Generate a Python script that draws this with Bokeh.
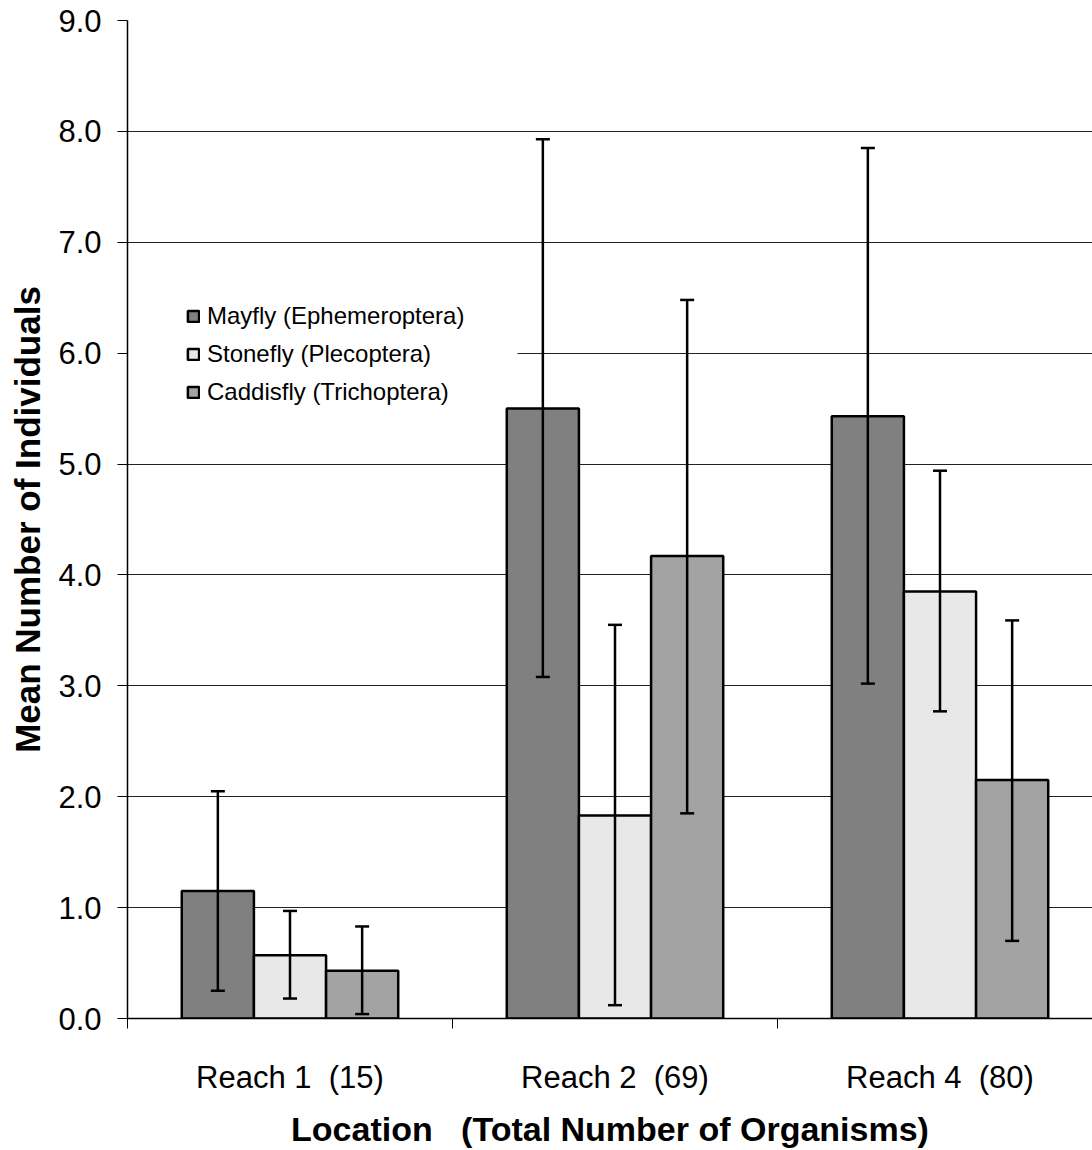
from bokeh.plotting import figure
from bokeh.models import (ColumnDataSource, Range1d, FixedTicker, Whisker, TeeHead,
                          Legend, LegendItem, BoxAnnotation)
from bokeh.embed import file_html
from bokeh.resources import INLINE

NB = "\u00a0"

# ---- data ----
reaches = ["Reach 1" + NB + NB + "(15)", "Reach 2" + NB + NB + "(69)", "Reach 4" + NB + NB + "(80)"]
series = ["Mayfly (Ephemeroptera)", "Stonefly (Plecoptera)", "Caddisfly (Trichoptera)"]
mayfly = [1.15, 5.50, 5.43]
mayfly_lo = [0.25, 3.08, 3.02]
mayfly_hi = [2.05, 7.93, 7.85]
stonefly = [0.57, 1.83, 3.85]
stonefly_lo = [0.18, 0.12, 2.77]
stonefly_hi = [0.97, 3.55, 4.94]
caddisfly = [0.43, 4.17, 2.15]
caddisfly_lo = [0.04, 1.85, 0.70]
caddisfly_hi = [0.83, 6.48, 3.59]
y_ticks = [0, 1, 2, 3, 4, 5, 6, 7, 8, 9]

values = [mayfly, stonefly, caddisfly]
lows = [mayfly_lo, stonefly_lo, caddisfly_lo]
highs = [mayfly_hi, stonefly_hi, caddisfly_hi]
colors = ["#808080", "#e8e8e8", "#a3a3a3"]
offsets = [-0.222, 0.0, 0.222]
bar_w = 0.222

FONT = "Liberation Sans"

p = figure(width=1092, height=1150, output_backend="svg", toolbar_location=None,
           x_range=Range1d(0, 965 / 325), y_range=Range1d(0, 9),
           min_border_left=127, min_border_right=0, min_border_top=20,
           min_border_bottom=132)
p.outline_line_color = None
p.background_fill_color = "white"

# white panel behind the legend (hides the gridline there)
p.add_layout(BoxAnnotation(left=0, right=1.2, bottom=5.6, top=6.5,
                           fill_color="white", fill_alpha=1.0, line_color=None,
                           level="glyph"))

renderers = []
for s in range(3):
    xs = [i + 0.5 + offsets[s] for i in range(len(reaches))]
    src = ColumnDataSource(dict(x=xs, top=values[s], lo=lows[s], hi=highs[s]))
    r = p.vbar(x="x", top="top", bottom=0, width=bar_w, source=src,
               fill_color=colors[s], line_color="black", line_width=2.5)
    renderers.append(r)
    w = Whisker(source=src, base="x", lower="lo", upper="hi",
                line_color="black", line_width=2.5,
                upper_head=TeeHead(size=14, line_color="black", line_width=2.5),
                lower_head=TeeHead(size=14, line_color="black", line_width=2.5),
                level="glyph")
    p.add_layout(w)

# axes
p.xaxis.ticker = FixedTicker(ticks=[0.5, 1.5, 2.5], minor_ticks=[0, 1, 2, 3])
p.xaxis.major_label_overrides = {0.5: reaches[0], 1.5: reaches[1], 2.5: reaches[2]}
p.xaxis.major_tick_out = 0
p.xaxis.major_tick_in = 0
p.xaxis.minor_tick_out = 10
p.xaxis.minor_tick_in = 0
p.xaxis.minor_tick_line_color = "black"
p.xaxis.minor_tick_line_width = 1
p.xaxis.major_label_standoff = 31
p.xaxis.axis_label = "Location" + NB + NB + NB + "(Total Number of Organisms)"

p.yaxis.ticker = FixedTicker(ticks=y_ticks, minor_ticks=[])
p.yaxis.major_label_overrides = {t: f"{t:.1f}" for t in y_ticks}
p.yaxis.major_tick_out = 10
p.yaxis.major_tick_in = 0
p.yaxis.major_label_standoff = 16
p.yaxis.axis_label = "Mean Number of Individuals"

for ax in (p.xaxis[0], p.yaxis[0]):
    ax.axis_line_color = "black"
    ax.axis_line_width = 1.5
    ax.major_tick_line_color = "black"
    ax.major_tick_line_width = 1
    ax.major_label_text_font = FONT
    ax.major_label_text_font_size = "31px"
    ax.major_label_text_color = "black"
    ax.axis_label_text_font = FONT
    ax.axis_label_text_font_style = "bold"
    ax.axis_label_text_color = "black"

p.xaxis.axis_label_text_font_size = "34px"
p.yaxis.axis_label_text_font_size = "35px"
p.xaxis.axis_label_standoff = 12
p.yaxis.axis_label_standoff = 8

p.xgrid.grid_line_color = None
p.ygrid.ticker = FixedTicker(ticks=y_ticks)
p.ygrid.grid_line_color = "#222222"
p.ygrid.grid_line_width = 1

legend = Legend(items=[LegendItem(label=series[i], renderers=[renderers[i]]) for i in range(3)],
                location=(59, 612), orientation="vertical",
                glyph_width=14, glyph_height=14, label_height=20, label_standoff=7,
                spacing=10, padding=10, margin=0,
                label_text_font=FONT, label_text_font_size="24px",
                label_text_color="black",
                background_fill_color="white", background_fill_alpha=1.0,
                border_line_color=None)
p.add_layout(legend)

open("out.html", "w").write(file_html(p, INLINE))
